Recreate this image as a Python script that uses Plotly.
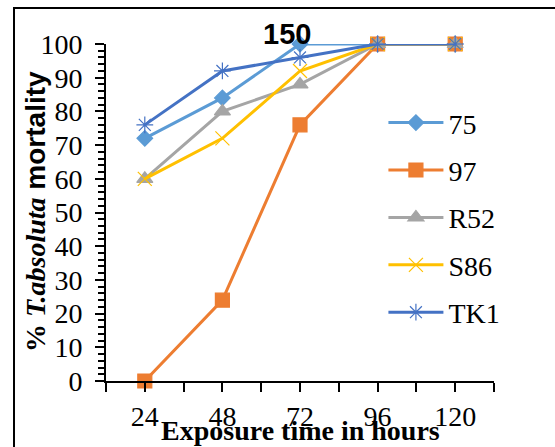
import plotly.graph_objects as go

hours = [24, 48, 72, 96, 120]
s75 = [72, 84, 100, 100, 100]
s97 = [0, 24, 76, 100, 100]
sR52 = [60, 80, 88, 100, 100]
sS86 = [60, 72, 92, 100, 100]
sTK1 = [76, 92, 96, 100, 100]
names = ["75", "97", "R52", "S86", "TK1"]
series = [s75, s97, sR52, sS86, sTK1]
colors = ["#5B9BD5", "#ED7D31", "#A5A5A5", "#FFC000", "#4472C4"]
symbols = ["diamond", "square", "triangle-up", "x-thin-open", "asterisk-open"]
msizes = [12, 14, 14, 14, 14]

xticks = [12, 24, 36, 48, 60, 72, 84, 96, 108, 120, 132]
xticktext = ["", "24", "", "48", "", "72", "", "96", "", "120", ""]
yticks = list(range(0, 101, 10))

serif = "Liberation Serif"

fig = go.Figure()
for i, (n, s) in enumerate(zip(names, series)):
    fig.add_trace(go.Scatter(
        x=hours, y=s, name=n, mode="lines+markers",
        line=dict(color=colors[i], width=3),
        marker=dict(symbol=symbols[i], size=msizes[i], color=colors[i],
                    line=dict(color=colors[i], width=1.2)),
        cliponaxis=False, legendgroup=n,
    ))

fig.update_layout(
    width=555, height=447,
    margin=dict(l=106, r=61, t=44, b=66),
    paper_bgcolor="white", plot_bgcolor="white",
    showlegend=True,
    font=dict(family=serif),
    legend=dict(x=0.715, y=0.84, xanchor="left", yanchor="top",
                font=dict(family=serif, size=28, color="black"),
                traceorder="grouped", tracegroupgap=8,
                bgcolor="rgba(0,0,0,0)", itemwidth=55),
    xaxis=dict(range=[12, 132], tickvals=xticks, ticktext=xticktext,
               showgrid=False, zeroline=False,
               showline=True, linecolor="black", linewidth=2,
               ticks="outside", ticklen=9, tickwidth=2, tickcolor="black",
               tickfont=dict(family=serif, size=28, color="black"),
               ticklabelstandoff=0),
    yaxis=dict(range=[0, 100], tickvals=yticks,
               showgrid=False, zeroline=False,
               showline=True, linecolor="black", linewidth=2,
               ticks="outside", ticklen=9, tickwidth=2, tickcolor="black",
               tickfont=dict(family=serif, size=28, color="black"),
               ticklabelstandoff=7,
               minor=dict(dtick=2, ticks="outside", ticklen=6, tickwidth=2,
                          tickcolor="black", showgrid=False)),
)

fig.add_annotation(text="<b>150</b>", xref="paper", yref="paper",
                   x=0.4665, y=1.0297, xanchor="center", yanchor="middle",
                   showarrow=False,
                   font=dict(family="Liberation Sans", size=29, color="black"))
fig.add_annotation(text="<b>Exposure time in hours</b>", xref="paper", yref="paper",
                   x=0.5, y=-0.148, xanchor="center", yanchor="middle", showarrow=False,
                   font=dict(family=serif, size=28, color="black"))
fig.add_annotation(
    text="<b>% <i>T.absoluta</i></b><b><span style='font-family:Liberation Sans'> mortality</span></b>",
    xref="paper", yref="paper", x=-0.1804, y=0.5015, textangle=-90,
    xanchor="center", yanchor="middle",
    showarrow=False, font=dict(family=serif, size=28, color="black"))

fig.add_shape(type="rect", xref="paper", yref="paper",
              x0=-0.2371, x1=1.3, y0=-0.4, y1=1.1068,
              line=dict(color="black", width=2), layer="above")

fig.write_html("out.html")
